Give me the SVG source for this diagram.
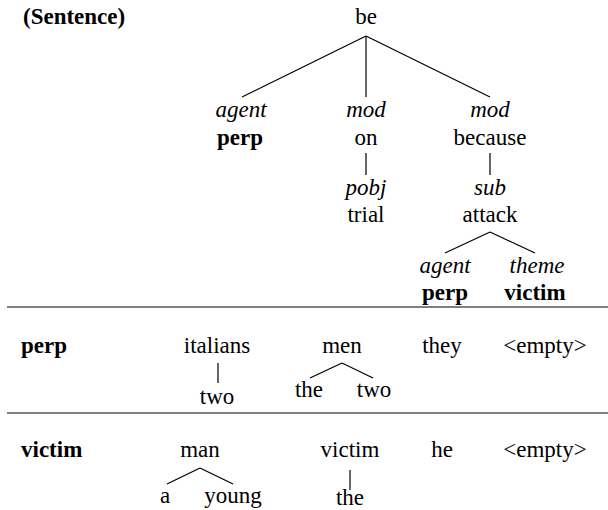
<svg xmlns="http://www.w3.org/2000/svg" width="608" height="510" viewBox="0 0 608 510">
<style>
text{font-family:"Liberation Serif",Tinos,"Times New Roman",Times,"Noto Serif","DejaVu Serif",FreeSerif,"Nimbus Roman",serif;font-size:23px;fill:#000;text-anchor:middle}
.l{text-anchor:start}
.b{font-weight:bold}
.i{font-style:italic}
line{stroke:#000;stroke-width:1.2}
</style>
<rect width="608" height="510" fill="#fff"/>
<g id="connectors">
<line x1="366" y1="36" x2="242" y2="97"/>
<line x1="366" y1="36" x2="366" y2="97"/>
<line x1="366" y1="36" x2="490" y2="97"/>
<line x1="366" y1="153" x2="366" y2="175"/>
<line x1="490" y1="153" x2="490" y2="175"/>
<line x1="490" y1="232" x2="445" y2="253"/>
<line x1="490" y1="232" x2="535" y2="253"/>
<line x1="218" y1="363" x2="218" y2="383"/>
<line x1="342" y1="363" x2="310" y2="378"/>
<line x1="342" y1="363" x2="373" y2="378"/>
<line x1="200" y1="468" x2="167" y2="484"/>
<line x1="200" y1="468" x2="233" y2="484"/>
<line x1="350" y1="470" x2="350" y2="490"/>
<line x1="7" y1="307" x2="608" y2="307"/>
<line x1="7" y1="413" x2="608" y2="413"/>
</g>
<g id="sentence-label"><text class="l b" x="23" y="24">(Sentence)</text></g>
<g id="be"><text x="366" y="24">be</text></g>
<g id="agent-perp"><text class="i" x="241" y="117">agent</text><text class="b" x="240" y="145">perp</text></g>
<g id="mod-on"><text class="i" x="366" y="117">mod</text><text x="366" y="145">on</text></g>
<g id="mod-because"><text class="i" x="490" y="117">mod</text><text x="490" y="145">because</text></g>
<g id="pobj-trial"><text class="i" x="366" y="195">pobj</text><text x="366" y="222">trial</text></g>
<g id="sub-attack"><text class="i" x="490" y="195">sub</text><text x="490" y="222">attack</text></g>
<g id="agent-perp2"><text class="i" x="445" y="273">agent</text><text class="b" x="445" y="300">perp</text></g>
<g id="theme-victim"><text class="i" x="537" y="273">theme</text><text class="b" x="535" y="300">victim</text></g>
<g id="perp-label"><text class="l b" x="21" y="353">perp</text></g>
<g id="italians"><text x="217" y="353">italians</text></g>
<g id="italians-two"><text x="217" y="404">two</text></g>
<g id="men"><text x="342" y="353">men</text></g>
<g id="men-the"><text x="309" y="397">the</text></g>
<g id="men-two"><text x="374" y="397">two</text></g>
<g id="they"><text x="442" y="353">they</text></g>
<g id="perp-empty"><text x="545" y="353">&lt;empty&gt;</text></g>
<g id="victim-label"><text class="l b" x="21" y="457">victim</text></g>
<g id="man"><text x="200" y="457">man</text></g>
<g id="man-a"><text x="165" y="503">a</text></g>
<g id="man-young"><text x="233" y="503">young</text></g>
<g id="victim"><text x="350" y="457">victim</text></g>
<g id="victim-the"><text x="350" y="505">the</text></g>
<g id="he"><text x="442" y="457">he</text></g>
<g id="victim-empty"><text x="545" y="457">&lt;empty&gt;</text></g>
</svg>
